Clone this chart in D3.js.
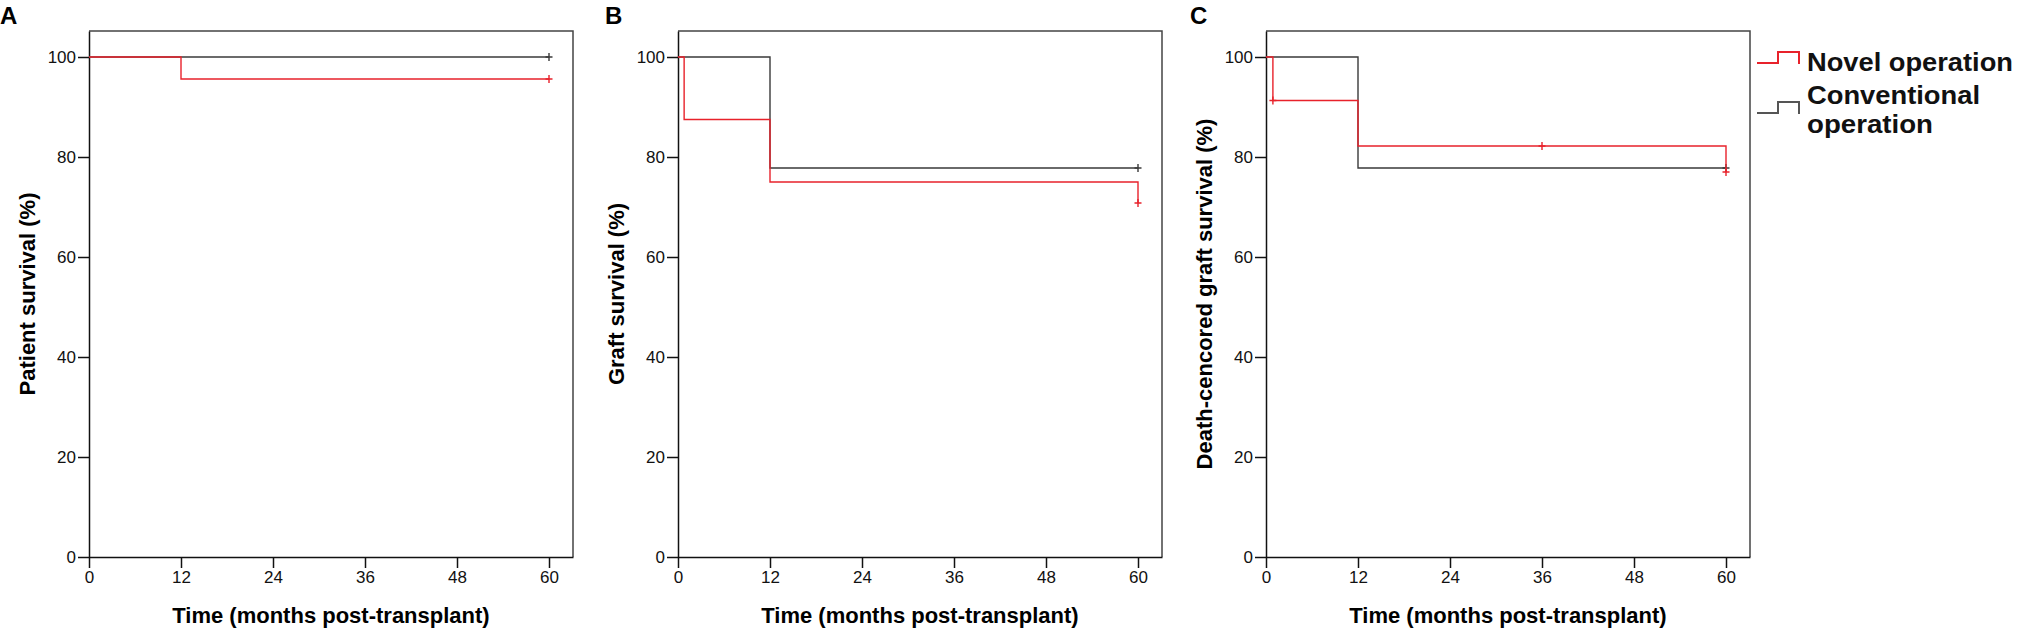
<!DOCTYPE html>
<html lang="en">
  <head>
    <meta charset="UTF-8" />
    <title>Survival curves</title>
    <style>
      body { margin: 0; background: #fff; }
      svg { display: block; font-family: "Liberation Sans", Arial, sans-serif; }
    </style>
  </head>
  <body>
    <script src="https://d3js.org/d3.v7.min.js"></script>
    <script>
      // tick values
      const xTicks = [0, 12, 24, 36, 48, 60];
      const yTicks = [0, 20, 40, 60, 80, 100];

      // panels
      const panelLetters = ["A", "B", "C"];
      const yLabels = [
        "Patient survival (%)",
        "Graft survival (%)",
        "Death-cencored graft survival (%)",
      ];

      // Kaplan-Meier steps: [month, survival % from that month on]
      const novelA = [[0, 100], [12, 95.6], [60, 95.6]];
      const convA = [[0, 100], [60, 100]];
      const novelB = [[0, 100], [0.8, 87.5], [12, 75], [60, 70.8]];
      const convB = [[0, 100], [12, 77.8], [60, 77.8]];
      const novelC = [[0, 100], [0.9, 91.3], [12, 82.2], [60, 77.0]];
      const convC = [[0, 100], [12, 77.8], [60, 77.8]];

      // censored observations
      const novelCensA = [[60, 95.6]];
      const convCensA = [[60, 100]];
      const novelCensB = [[60, 70.8]];
      const convCensB = [[60, 77.8]];
      const novelCensC = [[0.9, 91.3], [36, 82.2], [60, 77.0]];
      const convCensC = [[60, 77.8]];

      const legendLabels = ["Novel operation", "Conventional operation"];

      const novelSteps = [novelA, novelB, novelC];
      const convSteps = [convA, convB, convC];
      const novelCens = [novelCensA, novelCensB, novelCensC];
      const convCens = [convCensA, convCensB, convCensC];

      const red = "#e8222b";
      const dark = "#3a3a3a";

      const svg = d3
        .select("body")
        .append("svg")
        .attr("width", 2019)
        .attr("height", 633);

      const plotW = 484;
      const plotH = 526;
      const plotTop = 31;
      const lefts = [89, 678, 1266];
      const letterX = [0, 605, 1190];

      // frame reaches a bit past 60 months and 100 %
      const xScale = d3.scaleLinear().domain([0, 63.13]).range([0, plotW]);
      const yScale = d3.scaleLinear().domain([0, 105.2]).range([plotH, 0]);

      const line = d3
        .line()
        .x((d) => xScale(d[0]))
        .y((d) => yScale(d[1]))
        .curve(d3.curveStepAfter);

      panelLetters.forEach((letter, i) => {
        const g = svg
          .append("g")
          .attr("transform", `translate(${lefts[i]}, ${plotTop})`);

        svg
          .append("text")
          .attr("x", letterX[i])
          .attr("y", 24)
          .attr("font-size", 24)
          .attr("font-weight", "bold")
          .text(letter);

        // frame top and right
        g.append("path")
          .attr("d", `M0,0H${plotW}V${plotH}`)
          .attr("fill", "none")
          .attr("stroke", "#444")
          .attr("stroke-width", 1.5);

        const xAxis = d3
          .axisBottom(xScale)
          .tickValues(xTicks)
          .tickSize(11)
          .tickSizeOuter(0)
          .tickPadding(3);
        const yAxis = d3
          .axisLeft(yScale)
          .tickValues(yTicks)
          .tickSize(11)
          .tickSizeOuter(0)
          .tickPadding(2);

        g.append("g")
          .attr("transform", `translate(0, ${plotH})`)
          .call(xAxis)
          .call((a) => a.selectAll("path, line").attr("stroke", "#111").attr("stroke-width", 1.5))
          .call((a) => a.selectAll("text").attr("font-size", 17).attr("fill", "#111")
            .attr("font-family", "Liberation Sans, Arial, sans-serif"));

        g.append("g")
          .call(yAxis)
          .call((a) => a.selectAll("path, line").attr("stroke", "#111").attr("stroke-width", 1.5))
          .call((a) => a.selectAll("text").attr("font-size", 17).attr("fill", "#111")
            .attr("font-family", "Liberation Sans, Arial, sans-serif"));

        g.append("text")
          .attr("x", plotW / 2)
          .attr("y", plotH + 66)
          .attr("text-anchor", "middle")
          .attr("font-size", 22)
          .attr("font-weight", "bold")
          .text("Time (months post-transplant)");

        g.append("text")
          .attr("transform", `translate(-54, ${plotH / 2}) rotate(-90)`)
          .attr("text-anchor", "middle")
          .attr("font-size", 22)
          .attr("font-weight", "bold")
          .text(yLabels[i]);

        const drawCurve = (steps, cens, color) => {
          g.append("path")
            .datum(steps)
            .attr("d", line)
            .attr("fill", "none")
            .attr("stroke", color)
            .attr("stroke-width", 1.4);
          g.append("g")
            .selectAll("path")
            .data(cens)
            .join("path")
            .attr("d", (d) => {
              const x = xScale(d[0]);
              const y = yScale(d[1]);
              return `M${x},${y - 4}V${y + 4}M${x - 3.5},${y}H${x + 3.5}`;
            })
            .attr("stroke", color)
            .attr("stroke-width", 1.4);
        };

        drawCurve(convSteps[i], convCens[i], dark);
        drawCurve(novelSteps[i], novelCens[i], red);
      });

      // legend
      const legend = svg.append("g").attr("transform", "translate(1757, 0)");
      const legendColors = [red, "#555"];
      const legendY = [63, 113];
      legendLabels.forEach((label, i) => {
        const y = legendY[i];
        legend
          .append("path")
          .attr("d", `M0,${y}H21V${y - 11}H42V${y + 1}`)
          .attr("fill", "none")
          .attr("stroke", legendColors[i])
          .attr("stroke-width", 2);
      });
      const legendText = legend
        .append("text")
        .attr("font-size", 26)
        .attr("font-weight", "bold")
        .attr("fill", "#111");
      legendText
        .append("tspan")
        .attr("x", 50)
        .attr("y", 71)
        .attr("textLength", 206)
        .attr("lengthAdjust", "spacingAndGlyphs")
        .text(legendLabels[0]);
      const convWords = legendLabels[1].split(" ");
      legendText
        .append("tspan")
        .attr("x", 50)
        .attr("y", 104)
        .attr("textLength", 173)
        .attr("lengthAdjust", "spacingAndGlyphs")
        .text(convWords[0]);
      legendText
        .append("tspan")
        .attr("x", 50)
        .attr("y", 133)
        .attr("textLength", 126)
        .attr("lengthAdjust", "spacingAndGlyphs")
        .text(convWords[1]);
    </script>
  </body>
</html>
